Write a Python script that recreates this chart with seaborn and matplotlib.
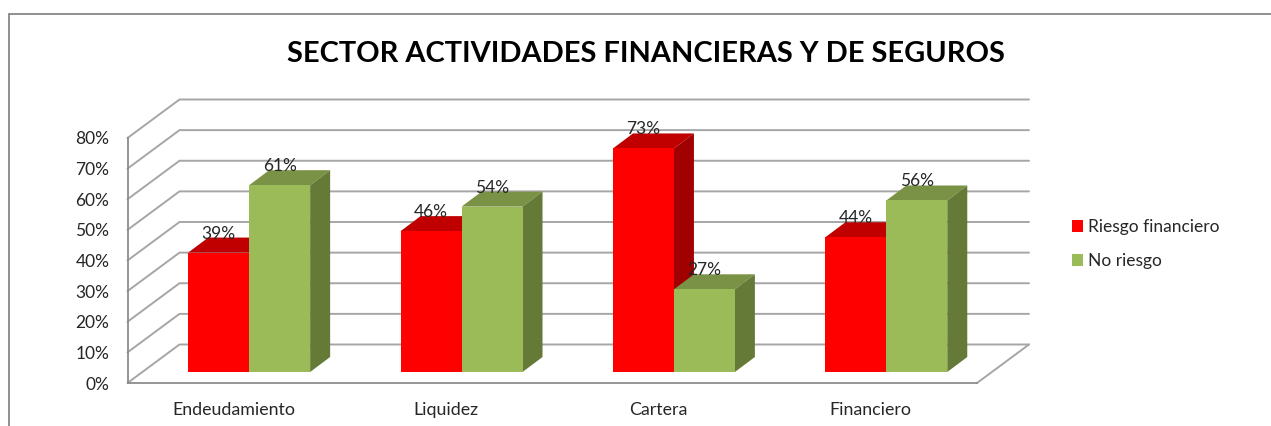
import matplotlib
matplotlib.use("Agg")
import matplotlib.pyplot as plt
from matplotlib.lines import Line2D
import pandas as pd
import seaborn as sns

title = "SECTOR ACTIVIDADES FINANCIERAS Y DE SEGUROS"
categories = ["Endeudamiento", "Liquidez", "Cartera", "Financiero"]
riesgo_financiero = [0.39, 0.46, 0.73, 0.44]
no_riesgo = [0.61, 0.54, 0.27, 0.56]
series_names = ["Riesgo financiero", "No riesgo"]
y_ticks = [0, 0.1, 0.2, 0.3, 0.4, 0.5, 0.6, 0.7, 0.8]

W, H = 1271, 426
sns.set_theme(style="white")
plt.rcParams["font.family"] = ["Lato", "DejaVu Sans"]

df = pd.DataFrame({
    "cat": categories * 2,
    "val": riesgo_financiero + no_riesgo,
    "serie": [series_names[0]] * 4 + [series_names[1]] * 4,
})

fig = plt.figure(figsize=(W / 100, H / 100), dpi=100, facecolor="white")
L, R, T, B = 127.5, 977, 138, 383
ax = fig.add_axes([L / W, (H - B) / H, (R - L) / W, (B - T) / H])

px_x = (R - L) / 4
px_y = (B - T) / 0.8
wall_dx, wall_dy = 52 / px_x, 38.5 / px_y
bar_dx, bar_dy = 20 / px_x, 15 / px_y
off_x, off_y = 15.5 / px_x, 11 / px_y

FRONT = {series_names[0]: "#FF0000", series_names[1]: "#9BBB59"}
TOP = {series_names[0]: "#C00000", series_names[1]: "#7A9245"}
SIDE = {series_names[0]: "#A00000", series_names[1]: "#667A38"}

sns.barplot(data=df, x="cat", y="val", hue="serie", hue_order=series_names,
            palette=FRONT, saturation=1, width=0.574, gap=0,
            linewidth=0, errorbar=None, ax=ax)
ax.set_xlim(-0.5, 3.5)
ax.set_ylim(0, 0.8)

GRID = "#A6A6A6"
for t in y_ticks:
    ax.plot([-0.5, -0.5 + wall_dx, 3.5 + wall_dx], [t, t + wall_dy, t + wall_dy],
            color=GRID, lw=1.4, zorder=1, clip_on=False, solid_joinstyle="miter")
ax.plot([3.5, 3.5 + wall_dx], [0, wall_dy], color=GRID, lw=1.4, zorder=1, clip_on=False)

for k, (name, cont) in enumerate(zip(series_names, ax.containers)):
    base = 3 + 2 * k
    values = df[df.serie == name].val.tolist()
    for bar, v in zip(cont.patches, values):
        bar.set_x(bar.get_x() + off_x)
        bar.set_y(off_y)
        bar.set_zorder(base + 1)
        bar.set_clip_on(False)
        x0, w = bar.get_x(), bar.get_width()
        y0, y1 = off_y, off_y + v
        ax.fill([x0, x0 + w, x0 + w + bar_dx, x0 + bar_dx],
                [y1, y1, y1 + bar_dy, y1 + bar_dy],
                color=TOP[name], lw=0, zorder=base, clip_on=False)
        ax.fill([x0 + w, x0 + w + bar_dx, x0 + w + bar_dx, x0 + w],
                [y0, y0 + bar_dy, y1 + bar_dy, y1],
                color=SIDE[name], lw=0, zorder=base, clip_on=False)
        ax.annotate(f"{v:.0%}", (x0 + w / 2, y1), xytext=(0, 19), textcoords="offset pixels",
                    ha="center", va="center", fontsize=12.5, color="#262626",
                    zorder=10, annotation_clip=False)

ax.set_xlabel("")
ax.set_ylabel("")
ax.set_yticks(y_ticks)
ax.set_yticklabels([f"{t:.0%}" for t in y_ticks])
ax.tick_params(axis="both", length=0, labelsize=12.5, labelcolor="#262626")
ax.tick_params(axis="x", pad=13.5, labelsize=12.8)
ax.tick_params(axis="y", pad=13)
for s in ["top", "right"]:
    ax.spines[s].set_visible(False)
for s in ["left", "bottom"]:
    ax.spines[s].set_color("#8C8C8C")
    ax.spines[s].set_linewidth(1.3)
    ax.spines[s].set_zorder(2)

sns.move_legend(ax, "center left", bbox_to_anchor=(1058 / W, (H - 244) / H),
                bbox_transform=fig.transFigure, title=None, frameon=False,
                fontsize=12.5, handlelength=0.65, handleheight=0.65, handletextpad=0.3,
                labelspacing=1.05, borderpad=0.3, labelcolor="#262626")

fig.text(645.5 / W, 1 - 53.5 / H, title, ha="center", va="center",
         fontsize=20.9, fontweight="bold", color="black")

fig.add_artist(Line2D([8.5 / W, 8.5 / W, 1], [0, 1 - 14 / H, 1 - 14 / H],
                      color="#868686", lw=1.3, transform=fig.transFigure,
                      solid_joinstyle="miter"))

fig.savefig("out.png", dpi=100, facecolor="white")
